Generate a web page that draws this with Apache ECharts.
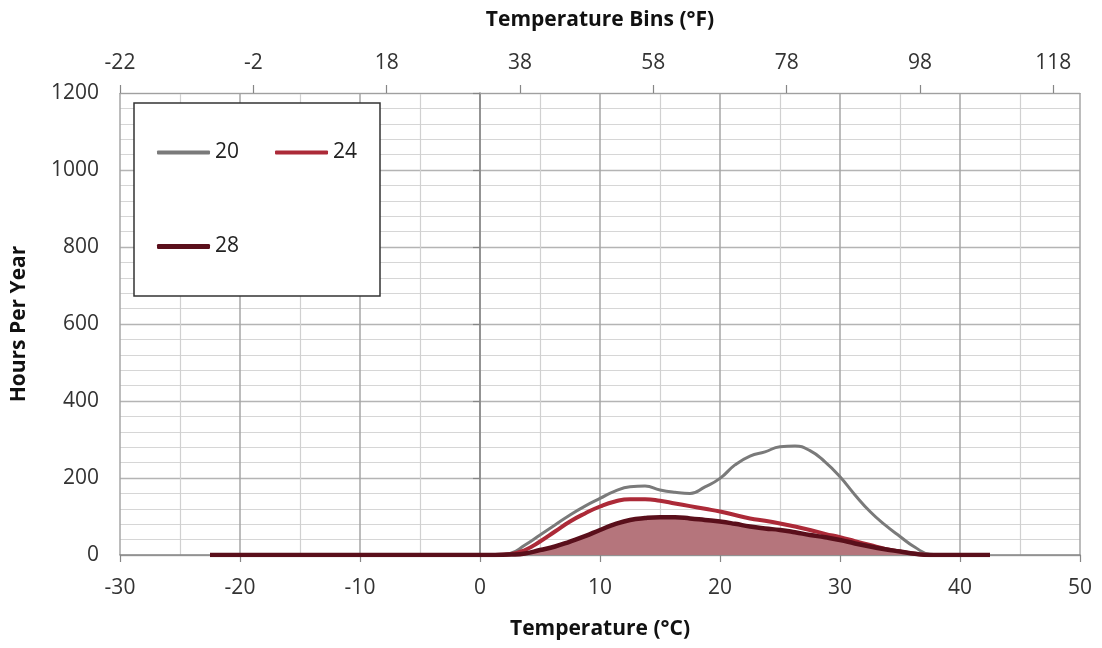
<!DOCTYPE html>
<html>
<head>
<meta charset="utf-8">
<script src="https://cdn.jsdelivr.net/npm/echarts@6/dist/echarts.min.js"></script>
<style>
html,body{margin:0;padding:0;background:#fff;}
#chart{width:1102px;height:648px;}
</style>
</head>
<body>
<div id="chart"></div>
<script>
// ---- data ----
const tempC = [-22.5,-20,-17.5,-15,-12.5,-10,-7.5,-5,-2.5,0,
  1.25,2.5,3.75,5,6.25,7.5,8.75,10,11.25,12.5,13.75,15,16.25,17.5,18.75,20,21.25,22.5,23.75,25,
  26.25,27.5,28.75,30,31.25,32.5,33.75,35,36.25,37.5,38.75,40,42.5];
const hours20 = [0,0,0,0,0,0,0,0,0,0,
  0,4,26,52,78,104,127,147,166,177,179,169,163,160,177,199,234,257,268,281,
  283,271,242,203,156,113,78,48,20,2,0,0,0];
const hours24 = [0,0,0,0,0,0,0,0,0,0,
  0,2,13,35,61,87,108,126,139,145,145,141,134,127,120,113,104,95,89,82,
  74,65,55,46,36,26,16,9,3,0,0,0,0];
const hours28 = [0,0,0,0,0,0,0,0,0,0,
  0,1,4,13,22,35,49,65,80,91,96,98,98,95,91,87,81,74,69,65,
  59,52,46,39,30,22,15,9,3,0,0,0,0];
const seriesNames = ['20','24','28'];
const fTicks = [-22,-2,18,38,58,78,98,118];

const FONT = 'Open Sans';
const chart = echarts.init(document.getElementById('chart'));
const pairs = arr => tempC.map((t,i)=>[t, arr[i]]);
const labelStyle = {fontFamily:FONT,fontSize:21,color:'#333'};
const nameStyle = {fontFamily:FONT,fontWeight:'bold',fontSize:21,color:'#111'};

const option = {
  backgroundColor:'#ffffff',
  animation:false,
  grid:{left:120,right:22,top:93,bottom:93,containLabel:false},
  graphic:[{
    type:'rect', z:10,
    shape:{x:134,y:103,width:246,height:193},
    style:{fill:'#ffffff',stroke:'#333333',lineWidth:1.5}
  }],
  legend:[
    {z:20,left:157,top:142,padding:0,itemGap:36,itemWidth:53,itemHeight:4,icon:'roundRect',itemTextGap:6,
     textStyle:{fontFamily:FONT,fontSize:21,color:'#222'},
     data:[seriesNames[0],seriesNames[1]]},
    {z:20,left:157,top:236,padding:0,itemGap:36,itemWidth:53,itemHeight:5,icon:'roundRect',itemTextGap:6,
     textStyle:{fontFamily:FONT,fontSize:21,color:'#222'},
     data:[seriesNames[2]]}
  ],
  xAxis:[
    {type:'value',position:'bottom',min:-30,max:50,interval:10,
     name:'Temperature (°C)',nameLocation:'middle',nameGap:64,
     nameTextStyle:nameStyle,
     axisLine:{show:true,lineStyle:{color:'#868686',width:1.5}},
     axisTick:{show:true,length:7,lineStyle:{color:'#868686',width:1.2}},
     axisLabel:Object.assign({margin:23},labelStyle),
     splitLine:{show:true,lineStyle:{color:'#a6a6a6',width:1.5}},
     minorTick:{show:false,splitNumber:2},
     minorSplitLine:{show:true,lineStyle:{color:'#d0d0d0',width:1.2}}
    },
    {type:'value',position:'top',min:-22,max:122,interval:20,
     name:'Temperature Bins (°F)',nameLocation:'middle',nameGap:62,
     nameTextStyle:nameStyle,
     axisLine:{show:true,lineStyle:{color:'#a0a0a0',width:1.2}},
     axisTick:{show:true,length:8,customValues:fTicks,lineStyle:{color:'#868686',width:1.2}},
     axisLabel:Object.assign({margin:19,customValues:fTicks},labelStyle),
     splitLine:{show:false}
    }
  ],
  yAxis:{type:'value',min:0,max:1200,interval:200,
     name:'Hours Per Year',nameLocation:'middle',nameGap:90,
     nameTextStyle:nameStyle,
     axisLine:{show:true,lineStyle:{color:'#868686',width:1.5}},
     axisTick:{show:true,length:7,lineStyle:{color:'#868686',width:1.2}},
     axisLabel:Object.assign({margin:21,formatter:v=>String(v)},labelStyle),
     splitLine:{show:true,lineStyle:{color:'#b4b4b4',width:1.3}},
     minorTick:{show:false,splitNumber:5},
     minorSplitLine:{show:true,lineStyle:{color:'#d6d6d6',width:1.2}}
  },
  series:[
    {name:seriesNames[0],type:'line',xAxisIndex:0,data:pairs(hours20),smooth:0.5,symbol:'none',
     color:'#7a7a7a',lineStyle:{color:'#7a7a7a',width:3},z:3},
    {name:seriesNames[1],type:'line',xAxisIndex:0,data:pairs(hours24),smooth:0.5,symbol:'none',
     color:'#ac2a38',lineStyle:{color:'#ac2a38',width:4},z:4},
    {name:seriesNames[2],type:'line',xAxisIndex:0,data:pairs(hours28),smooth:0.5,symbol:'none',
     color:'#5a0f1b',lineStyle:{color:'#5a0f1b',width:4.5},
     areaStyle:{color:'#b5757c',opacity:1},z:5}
  ]
};
chart.setOption(option);
</script>
</body>
</html>
